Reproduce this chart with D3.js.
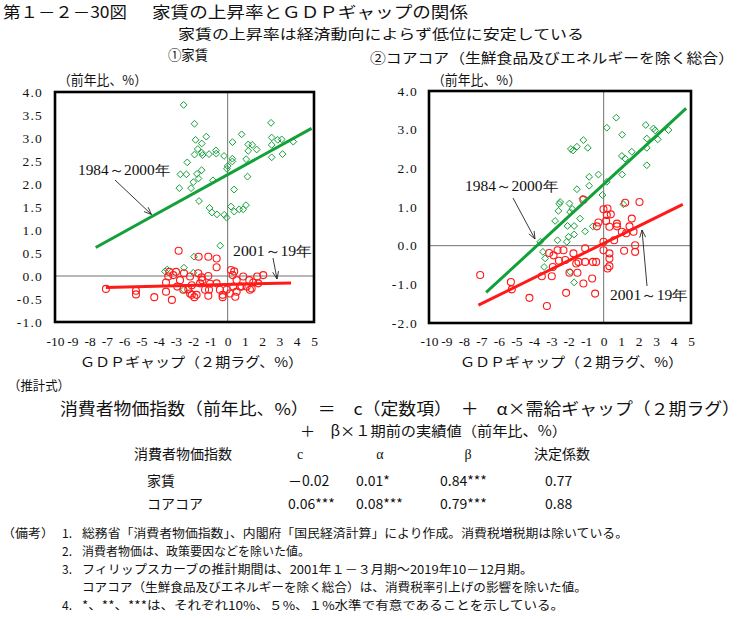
<!DOCTYPE html>
<html><head><meta charset="utf-8">
<script src="https://cdn.jsdelivr.net/npm/d3@7"></script>
<style>body{margin:0;background:#fff}svg{display:block}</style>
</head><body><svg id="c" width="742" height="619"></svg>
<script>
// ---------------- data ----------------
const xTicks = d3.range(-10, 6);
const rentYTicks = [-1, -0.5, 0, 0.5, 1, 1.5, 2, 2.5, 3, 3.5, 4];
const coreYTicks = [-2, -1, 0, 1, 2, 3, 4];

const rent1984 = [[-2.55,3.72],[-1.92,3.31],[-1.86,2.96],[-1.24,3.03],[-1.50,2.88],[-1.73,2.76],[-1.50,2.68],[-1.92,2.64],[-1.45,2.63],[-1.08,2.65],[-0.68,2.73],[-0.66,2.66],[-0.21,2.61],[0.28,2.91],[0.81,3.08],[0.27,2.55],[0.27,2.49],[1.19,2.86],[1.42,2.85],[1.68,2.75],[1.19,2.72],[1.07,2.54],[2.51,3.33],[2.55,3.01],[2.90,2.96],[3.13,2.97],[3.80,2.92],[2.55,2.85],[2.55,2.58],[3.18,2.65],[-2.34,2.47],[-2.74,2.21],[-2.39,2.21],[-1.51,2.30],[-1.78,2.22],[-1.69,2.12],[-1.99,2.04],[-2.12,1.91],[-2.80,1.91],[-0.85,2.08],[0.0,2.39],[-0.04,2.33],[0.37,1.88],[1.15,2.16],[-1.66,1.63],[-1.05,1.48],[-0.91,1.38],[-0.62,1.34],[-0.20,1.33],[-0.06,1.27],[0.19,1.51],[0.38,1.40],[0.67,1.45],[0.90,1.45],[1.06,1.54],[-0.43,0.66],[-1.95,0.42],[-3.50,0.14],[-3.63,0.10],[-2.53,0.18],[-1.99,0.07],[-2.53,-0.30]];
const rent2001 = [[-7.05,-0.28],[-5.31,-0.32],[-5.31,-0.40],[-4.25,-0.46],[-3.23,-0.52],[-3.57,-0.34],[-3.57,-0.14],[-3.44,-0.01],[-3.15,0.02],[-3.38,0.09],[-2.99,0.09],[-2.84,0.55],[-2.53,0.06],[-2.76,-0.09],[-2.92,-0.23],[-2.57,-0.30],[-2.18,-0.38],[-2.08,-0.20],[-2.28,-0.29],[-2.08,-0.41],[-1.93,-0.46],[-1.68,0.42],[-1.12,0.42],[-0.64,0.38],[-0.64,0.19],[-1.70,0.06],[-1.60,-0.16],[-1.51,-0.03],[-1.47,-0.09],[-1.12,0.0],[-1.02,-0.17],[-1.31,-0.30],[-1.80,-0.41],[-1.12,-0.43],[-1.08,-0.30],[-0.64,-0.16],[-0.45,-0.30],[-0.29,-0.41],[-0.29,-0.46],[-0.06,-0.30],[0.13,-0.38],[0.19,0.13],[0.38,0.10],[0.29,0.02],[0.52,-0.09],[0.33,-0.23],[0.52,-0.34],[0.44,-0.45],[0.71,-0.23],[0.81,-0.23],[0.90,-0.01],[1.25,-0.09],[1.10,-0.23],[1.48,-0.14],[1.71,-0.01],[1.77,-0.16],[2.06,0.02],[1.39,-0.27],[1.29,-0.30],[-2.18,-0.01]];
const rentFit1984 = [[-7.64,0.62],[4.86,3.21]];
const rentFit2001 = [[-7.05,-0.25],[3.67,-0.15]];

const core1984 = [[0.72,3.31],[0.18,3.05],[1.06,2.87],[2.41,3.12],[2.85,3.03],[2.95,2.98],[3.71,2.99],[3.10,2.75],[2.47,2.77],[2.47,2.53],[2.47,2.08],[1.61,2.43],[1.23,2.25],[1.04,2.32],[1.06,1.84],[-1.16,2.73],[-1.53,2.56],[-1.88,2.50],[-1.75,2.46],[-0.91,2.53],[-0.30,1.84],[-0.83,1.78],[-0.83,1.55],[-1.53,1.46],[0.18,1.65],[-0.07,1.31],[-1.21,1.22],[-2.49,1.13],[-2.55,1.08],[-1.96,1.09],[-2.59,0.90],[-2.78,0.64],[-1.92,0.87],[-1.80,0.95],[-1.35,0.70],[-2.07,0.51],[-1.69,0.51],[-1.06,0.37],[-0.62,0.50],[1.13,1.07],[-1.69,0.29],[-2.01,0.23],[-2.11,0.10],[-2.64,0.14],[-3.63,0.10],[-3.48,-0.16],[-3.35,-0.33],[-3.41,-0.55],[-1.92,-0.68],[-1.69,-0.95]];
const core2001 = [[-7.07,-0.76],[-5.31,-0.94],[-5.26,-1.13],[-4.25,-1.35],[-3.25,-1.56],[-2.15,-1.22],[-0.49,-1.24],[-0.66,-0.85],[-1.16,-0.98],[-1.50,-0.70],[-1.96,-0.70],[-3.54,-0.79],[-2.97,-0.79],[-2.91,-0.55],[-3.12,-0.19],[-2.87,-0.25],[-2.64,-0.12],[-2.30,-0.12],[-2.56,-0.39],[-2.20,-0.37],[-1.73,-0.20],[-1.44,-0.42],[-1.57,-0.46],[-1.06,-0.07],[-1.06,-0.42],[-0.62,-0.42],[-0.43,-0.42],[-0.39,0.50],[-0.01,0.94],[0.18,0.79],[0.22,0.96],[0.41,0.81],[0.14,0.64],[0.33,0.49],[-0.01,0.10],[-0.01,-0.12],[0.33,-0.20],[0.33,-0.33],[0.22,-0.59],[0.33,-0.53],[0.76,0.50],[1.04,0.36],[1.29,0.32],[0.60,0.14],[1.17,-0.13],[1.61,0.70],[1.48,0.50],[1.71,0.36],[1.80,0.01],[1.80,-0.16],[2.05,1.13],[1.23,1.11],[-1.16,1.19],[-0.30,0.60],[0.76,0.57]];
const coreFit1984 = [[-6.73,-1.21],[4.72,3.55]];
const coreFit2001 = [[-7.17,-1.54],[4.53,1.07]];

const seriesLabels = ["1984～2000年", "2001～19年"];
const tableHeader = ["消費者物価指数", "c", "α", "β", "決定係数"];
const tableRows = [
  ["家賃", "－0.02", "0.01*", "0.84***", "0.77"],
  ["コアコア", "0.06***", "0.08***", "0.79***", "0.88"]
];
const notes = [
  ["1.", "総務省「消費者物価指数」、内閣府「国民経済計算」により作成。消費税増税期は除いている。"],
  ["2.", "消費者物価は、政策要因などを除いた値。"],
  ["3.", "フィリップスカーブの推計期間は、2001年１－３月期～2019年10－12月期。"],
  ["",   "コアコア（生鮮食品及びエネルギーを除く総合）は、消費税率引上げの影響を除いた値。"],
  ["4.", "*、**、***は、それぞれ10%、５%、１%水準で有意であることを示している。"]
];

// ---------------- drawing ----------------
const svg = d3.select("#c");
const JP = "'Noto Sans CJK JP', sans-serif";
const SERIF = "'Liberation Serif', 'DejaVu Serif', serif";
const GREEN = "#12a038", RED = "#ff1a1a";

function txt(s, x, y, size, opts = {}) {
  const t = svg.append("text").attr("x", x).attr("y", y).text(s)
    .attr("font-family", opts.font || JP).attr("font-size", size).attr("fill", "#111");
  if (opts.anchor) t.attr("text-anchor", opts.anchor);
  if (opts.len) t.attr("textLength", opts.len).attr("lengthAdjust", "spacingAndGlyphs");
  return t;
}

function arrow(g, x1, y1, x2, y2) {
  g.append("line").attr("x1", x1).attr("y1", y1).attr("x2", x2).attr("y2", y2)
    .attr("stroke", "#222").attr("stroke-width", 0.9);
  const a = Math.atan2(y2 - y1, x2 - x1), L = 8, w = 0.38;
  const p = [[x2 - L * Math.cos(a - w), y2 - L * Math.sin(a - w)], [x2, y2], [x2 - L * Math.cos(a + w), y2 - L * Math.sin(a + w)]];
  g.append("path").attr("d", d3.line()(p)).attr("fill", "none").attr("stroke", "#222").attr("stroke-width", 0.9);
}

function panel(cfg) {
  const x = d3.scaleLinear().domain([-10, 5]).range([cfg.x0, cfg.x1]);
  const y = d3.scaleLinear().domain(cfg.yDomain).range([cfg.y1, cfg.y0]);
  const g = svg.append("g");

  g.append("line").attr("x1", x(0)).attr("x2", x(0)).attr("y1", cfg.y0).attr("y2", cfg.y1)
    .attr("stroke", "#707070").attr("stroke-width", 1);
  g.append("line").attr("x1", cfg.x0).attr("x2", cfg.x1).attr("y1", y(0)).attr("y2", y(0))
    .attr("stroke", "#707070").attr("stroke-width", 1);

  const r = 3.4;
  g.append("g").selectAll("path").data(cfg.green).join("path")
    .attr("d", d => { const cx = x(d[0]), cy = y(d[1]);
      return `M${cx},${cy - r}L${cx + r},${cy}L${cx},${cy + r}L${cx - r},${cy}Z`; })
    .attr("fill", "none").attr("stroke", GREEN).attr("stroke-width", 1);
  g.append("g").selectAll("circle").data(cfg.red).join("circle")
    .attr("cx", d => x(d[0])).attr("cy", d => y(d[1])).attr("r", 3.5)
    .attr("fill", "none").attr("stroke", RED).attr("stroke-width", 1.1);

  const line = d3.line().x(d => x(d[0])).y(d => y(d[1]));
  g.append("path").attr("d", line(cfg.greenFit)).attr("stroke", GREEN).attr("stroke-width", 3).attr("fill", "none");
  g.append("path").attr("d", line(cfg.redFit)).attr("stroke", RED).attr("stroke-width", 3).attr("fill", "none");

  g.append("rect").attr("x", cfg.x0).attr("y", cfg.y0).attr("width", cfg.x1 - cfg.x0).attr("height", cfg.y1 - cfg.y0)
    .attr("fill", "none").attr("stroke", "#000").attr("stroke-width", 2.6);

  g.append("g").attr("transform", `translate(${cfg.x0},0)`)
    .call(d3.axisLeft(y).tickValues(cfg.yTicks).tickSize(0).tickPadding(cfg.x0 - cfg.yLabelRight).tickFormat(d => d.toFixed(1)))
    .call(a => { a.select(".domain").remove();
      a.selectAll("text").attr("font-family", SERIF).attr("font-size", 13.5).attr("fill", "#111").attr("letter-spacing", 1.2); });
  g.append("g").attr("transform", `translate(0,${cfg.y1})`)
    .call(d3.axisBottom(x).tickValues(xTicks).tickSize(0).tickFormat(d => String(d)))
    .call(a => { a.select(".domain").remove();
      a.selectAll("text").attr("y", 346 - cfg.y1).attr("dy", null).attr("font-family", SERIF).attr("font-size", 13.5).attr("fill", "#111"); });

  txt("（前年比、%）", cfg.unitX, 85, 13.5, { len: 89 });
  txt("ＧＤＰギャップ（２期ラグ、%）", cfg.xTitleX, 367, 13.5, { len: 223 });

  txt(seriesLabels[0], cfg.lab1[0], cfg.lab1[1], 14, { font: SERIF, len: cfg.lab1[2] });
  txt(seriesLabels[1], cfg.lab2[0], cfg.lab2[1], 14, { font: SERIF, len: cfg.lab2[2] });
  arrow(g, ...cfg.arr1);
  arrow(g, ...cfg.arr2);
}

// titles
txt("第１－２－30図", 3, 18.2, 15.5, { len: 124 });
txt("家賃の上昇率とＧＤＰギャップの関係", 152, 18.2, 15.5, { len: 316 });
txt("家賃の上昇率は経済動向によらず低位に安定している", 178, 39, 14, { len: 406 });
txt("①家賃", 168, 59.5, 14, { len: 40 });
txt("②コアコア（生鮮食品及びエネルギーを除く総合）", 370, 63, 14, { len: 364 });

panel({
  x0: 55, x1: 314, y0: 92, y1: 322, yDomain: [-1, 4], yTicks: rentYTicks, yLabelRight: 43,
  green: rent1984, red: rent2001, greenFit: rentFit1984, redFit: rentFit2001,
  unitX: 58, xTitleX: 80,
  lab1: [78, 175, 92], lab2: [233, 256, 79],
  arr1: [115, 180, 151.5, 214.5], arr2: [273, 258, 277, 279]
});
panel({
  x0: 429, x1: 691, y0: 91, y1: 323, yDomain: [-2, 4], yTicks: coreYTicks, yLabelRight: 418,
  green: core1984, red: core2001, greenFit: coreFit1984, redFit: coreFit2001,
  unitX: 432, xTitleX: 460,
  lab1: [465, 191, 93], lab2: [610, 300, 78],
  arr1: [513, 198, 535, 239], arr2: [647, 286, 642, 230]
});

// estimation formula
txt("（推計式）", 8, 390, 13, { len: 62 });
txt("消費者物価指数（前年比、%）　＝　c（定数項）　＋　α×需給ギャップ（２期ラグ）", 60, 415, 16.5, { len: 680 });
txt("＋　β×１期前の実績値（前年比、%）", 300, 436, 14, { len: 267 });

// table
const colX = [183, 300, 380, 468, 562];
tableHeader.forEach((h, i) => txt(h, colX[i], 459, 14, { anchor: "middle", font: i >= 1 && i <= 3 ? SERIF : JP }));
const rowY = [486, 509];
const valX = [147, 288, 356, 440, 545];
tableRows.forEach((row, r) => row.forEach((v, i) => txt(v, valX[i], rowY[r], 14, {})));

// notes
txt("（備考）", 2, 538, 12, { len: 52 });
const noteY = [538, 556, 574, 592, 610];
const noteLen = [546, 228, 451, 505, 482];
notes.forEach((n, i) => {
  if (n[0]) txt(n[0], 62, noteY[i], 12);
  txt(n[1], 82, noteY[i], 12, { len: noteLen[i] });
});
</script></body></html>
